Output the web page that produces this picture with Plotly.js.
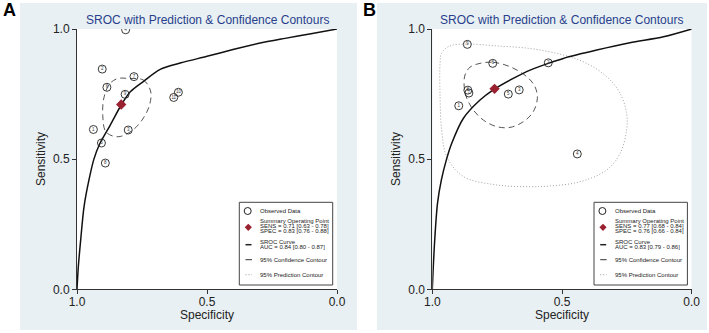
<!DOCTYPE html>
<html>
<head>
<meta charset="utf-8">
<script src="https://cdn.plot.ly/plotly-3.0.1.min.js"></script>
<style>html,body{margin:0;padding:0;background:#fff;}#chart{width:709px;height:333px;}</style>
</head>
<body>
<div id="chart"></div>
<script>
// ---------- data ----------
const panelLetters = ["A", "B"];
const chartTitle = "SROC with Prediction & Confidence Contours";
const xAxisTitle = "Specificity";
const yAxisTitle = "Sensitivity";
const tickVals = [0, 0.5, 1];
const tickText = ["0.0", "0.5", "1.0"];

// Panel A observed studies
const studyA_labels = ["1","2","3","4","5","6","7","8","9","10","11"];
const studyA_spec = [0.937, 0.903, 0.803, 0.813, 0.906, 0.885, 0.781, 0.891, 0.815, 0.610, 0.628];
const studyA_sens = [0.614, 0.846, 0.612, 0.997, 0.562, 0.776, 0.817, 0.485, 0.749, 0.757, 0.737];
const summaryA_spec = [0.83];
const summaryA_sens = [0.71];
const srocA_spec = [1.0, 0.995, 0.986, 0.973, 0.954, 0.935, 0.912, 0.872, 0.83, 0.795, 0.743, 0.68, 0.60, 0.50, 0.40, 0.30, 0.20, 0.10, 0.0];
const srocA_sens = [0.0, 0.086, 0.188, 0.317, 0.42, 0.50, 0.56, 0.631, 0.708, 0.759, 0.80, 0.845, 0.87, 0.895, 0.921, 0.945, 0.964, 0.982, 1.0];
const confA_spec = [0.803, 0.745, 0.717, 0.721, 0.75, 0.788, 0.842, 0.888, 0.901, 0.896, 0.873, 0.842, 0.803];
const confA_sens = [0.810, 0.804, 0.762, 0.708, 0.65, 0.61, 0.586, 0.604, 0.669, 0.738, 0.791, 0.81, 0.810];
const legendA_lines = ["SENS = 0.71 [0.63 - 0.78]", "SPEC = 0.83 [0.76 - 0.88]", "AUC = 0.84 [0.80 - 0.87]"];

// Panel B observed studies
const studyB_labels = ["1","2","3","4","5","6","7","8","9"];
const studyB_spec = [0.898, 0.553, 0.665, 0.441, 0.707, 0.767, 0.859, 0.863, 0.865];
const studyB_sens = [0.705, 0.870, 0.766, 0.520, 0.750, 0.868, 0.754, 0.765, 0.941];
const summaryB_spec = [0.76];
const summaryB_sens = [0.77];
const srocB_spec = [1.0, 0.997, 0.99, 0.98, 0.965, 0.945, 0.925, 0.88, 0.816, 0.765, 0.688, 0.623, 0.553, 0.495, 0.366, 0.238, 0.109, 0.0];
const srocB_sens = [0.0, 0.07, 0.2, 0.33, 0.42, 0.5, 0.561, 0.657, 0.727, 0.766, 0.81, 0.842, 0.868, 0.887, 0.919, 0.947, 0.970, 1.0];
const confB_spec = [0.816, 0.765, 0.70, 0.636, 0.604, 0.595, 0.611, 0.649, 0.70, 0.752, 0.803, 0.842, 0.867, 0.877, 0.874, 0.855, 0.816];
const confB_sens = [0.868, 0.872, 0.855, 0.817, 0.778, 0.734, 0.682, 0.644, 0.622, 0.625, 0.650, 0.689, 0.734, 0.778, 0.823, 0.853, 0.868];
const predB_spec = [0.964, 0.932, 0.867, 0.752, 0.623, 0.495, 0.405, 0.328, 0.276, 0.251, 0.251, 0.276, 0.328, 0.431, 0.546, 0.623, 0.752, 0.880, 0.944, 0.964, 0.970, 0.970, 0.964];
const predB_sens = [0.907, 0.935, 0.942, 0.935, 0.925, 0.900, 0.868, 0.817, 0.753, 0.676, 0.612, 0.522, 0.458, 0.413, 0.397, 0.394, 0.401, 0.433, 0.509, 0.612, 0.740, 0.868, 0.907];
const legendB_lines = ["SENS = 0.77 [0.68 - 0.84]", "SPEC = 0.76 [0.66 - 0.84]", "AUC = 0.83 [0.79 - 0.86]"];

const legendLabels = ["Observed Data", "Summary Operating Point", "SROC Curve", "95% Confidence Contour", "95% Prediction Contour"];

// ---------- helpers ----------
const W = 709, H = 333;
const PX = x => x / W;
const PY = y => 1 - y / H;
const FONT = "Liberation Sans, Arial, sans-serif";
const BG = "#e9f0f3";
const TITLE_C = "#283f8c";

function panelTraces(sfx, spec, sens, labels, sSpec, sSens, rSpec, rSens, cSpec, cSens, pSpec, pSens) {
  const xa = "x" + sfx, ya = "y" + sfx;
  const t = [];
  if (pSpec) t.push({x: pSpec, y: pSens, xaxis: xa, yaxis: ya, mode: "lines",
    line: {color: "#a0a0a0", width: 1, dash: "1px,2px", shape: "spline", smoothing: 1}});
  t.push({x: cSpec, y: cSens, xaxis: xa, yaxis: ya, mode: "lines",
    line: {color: "#555", width: 1, dash: "6px,4px", shape: "spline", smoothing: 1}});
  t.push({x: rSpec, y: rSens, xaxis: xa, yaxis: ya, mode: "lines",
    line: {color: "#111", width: 1.5, shape: "spline", smoothing: 0.8}});
  t.push({x: spec, y: sens, text: labels, xaxis: xa, yaxis: ya, mode: "markers+text",
    textposition: "middle center", textfont: {size: 4.5, color: "#333", family: FONT},
    marker: {symbol: "circle-open", size: 8, color: "#222", line: {width: 0.9}}});
  t.push({x: sSpec, y: sSens, xaxis: xa, yaxis: ya, mode: "markers",
    marker: {symbol: "diamond", size: 8, color: "#9a2230"}});
  return t;
}

const data = [].concat(
  panelTraces("", studyA_spec, studyA_sens, studyA_labels, summaryA_spec, summaryA_sens, srocA_spec, srocA_sens, confA_spec, confA_sens, null, null),
  panelTraces("2", studyB_spec, studyB_sens, studyB_labels, summaryB_spec, summaryB_sens, srocB_spec, srocB_sens, confB_spec, confB_sens, predB_spec, predB_sens)
);

function axisX(domain, anchor) {
  return {domain: domain, range: [1, 0], anchor: anchor, showgrid: false, zeroline: false,
    showline: true, linecolor: "#333", linewidth: 1, ticks: "outside", ticklen: 4, tickcolor: "#333",
    ticklabelstandoff: -3,
    tickvals: tickVals, ticktext: tickText, tickfont: {size: 12, color: "#222", family: FONT}, fixedrange: true};
}
function axisY(domain, anchor) {
  return {domain: domain, range: [0, 1], anchor: anchor, showgrid: false, zeroline: false,
    showline: true, linecolor: "#333", linewidth: 1, ticks: "outside", ticklen: 4, tickcolor: "#333",
    tickvals: tickVals, ticktext: tickText, tickfont: {size: 12, color: "#222", family: FONT}, fixedrange: true};
}

const yDom = [PY(289.3), PY(29)];
const layout = {
  width: W, height: H, margin: {l: 0, r: 0, t: 0, b: 0},
  paper_bgcolor: "#ffffff", plot_bgcolor: "#ffffff",
  showlegend: false, hovermode: false,
  xaxis: axisX([PX(77), PX(337)], "y"),
  yaxis: axisY(yDom, "x"),
  xaxis2: axisX([PX(432.3), PX(691.7)], "y2"),
  yaxis2: axisY(yDom, "x2"),
  shapes: [], annotations: []
};

// panel backgrounds
[[20, 357], [377, 707]].forEach(r => {
  layout.shapes.push({type: "rect", xref: "paper", yref: "paper", layer: "below",
    x0: PX(r[0]), x1: PX(r[1]), y0: PY(330), y1: PY(3), fillcolor: BG, line: {width: 0}});
});
// white plot areas
[["x", "y"], ["x2", "y2"]].forEach(a => {
  layout.shapes.push({type: "rect", xref: a[0], yref: a[1], layer: "below",
    x0: 1, x1: 0, y0: 0, y1: 1, fillcolor: "#ffffff", line: {width: 0}});
});

// titles, panel letters, axis titles
[[207.5, 9.5, 41, 207], [561.8, 369.5, 396, 562]].forEach((p, i) => {
  layout.annotations.push({xref: "paper", yref: "paper", x: PX(p[0]), y: PY(20), text: chartTitle,
    showarrow: false, xanchor: "center", yanchor: "middle", font: {size: 12, color: TITLE_C, family: FONT}});
  layout.annotations.push({xref: "paper", yref: "paper", x: PX(p[1]), y: PY(10), text: "<b>" + panelLetters[i] + "</b>",
    showarrow: false, xanchor: "center", yanchor: "middle", font: {size: 18, color: "#000", family: FONT}});
  layout.annotations.push({xref: "paper", yref: "paper", x: PX(p[2]), y: PY(159), text: yAxisTitle, textangle: -90,
    showarrow: false, xanchor: "center", yanchor: "middle", font: {size: 12, color: "#222", family: FONT}});
  layout.annotations.push({xref: "paper", yref: "paper", x: PX(p[3]), y: PY(314.5), text: xAxisTitle,
    showarrow: false, xanchor: "center", yanchor: "middle", font: {size: 12, color: "#222", family: FONT}});
});

// legends
function addLegend(dx, lines) {
  const L = v => PX(v + dx);
  layout.shapes.push({type: "rect", xref: "paper", yref: "paper", layer: "above",
    x0: L(239.3), x1: L(332.7), y0: PY(285), y1: PY(202.3), fillcolor: "#ffffff", line: {color: "#444", width: 1}});
  layout.shapes.push({type: "circle", xref: "paper", yref: "paper", layer: "above",
    x0: L(244.2), x1: L(251.2), y0: PY(214.5), y1: PY(207.5), line: {color: "#222", width: 1}});
  const cx = 248.3 + dx, cy = 227.3, r = 3.6;
  layout.shapes.push({type: "path", xref: "paper", yref: "paper", layer: "above",
    path: `M ${PX(cx)},${PY(cy - r)} L ${PX(cx + r)},${PY(cy)} L ${PX(cx)},${PY(cy + r)} L ${PX(cx - r)},${PY(cy)} Z`,
    fillcolor: "#9a2230", line: {width: 0}});
  layout.shapes.push({type: "line", xref: "paper", yref: "paper", layer: "above",
    x0: L(245.5), x1: L(251.5), y0: PY(244.7), y1: PY(244.7), line: {color: "#222", width: 1.5}});
  layout.shapes.push({type: "line", xref: "paper", yref: "paper", layer: "above",
    x0: L(245.5), x1: L(252), y0: PY(259.7), y1: PY(259.7), line: {color: "#333", width: 1}});
  layout.shapes.push({type: "line", xref: "paper", yref: "paper", layer: "above",
    x0: L(245.5), x1: L(252), y0: PY(274.7), y1: PY(274.7), line: {color: "#999", width: 1, dash: "1px,2px"}});
  const txt = [
    [legendLabels[0], 211], [legendLabels[1], 221.3], [lines[0], 226.3], [lines[1], 231.3],
    [legendLabels[2], 242], [lines[2], 247.4], [legendLabels[3], 259.7], [legendLabels[4], 274.7]
  ];
  txt.forEach(t => {
    layout.annotations.push({xref: "paper", yref: "paper", x: L(258.8), y: PY(t[1]), text: t[0],
      showarrow: false, xanchor: "left", yanchor: "middle", borderpad: 0,
      font: {size: 6, color: "#222", family: FONT}});
  });
}
addLegend(0, legendA_lines);
addLegend(354.7, legendB_lines);

Plotly.newPlot("chart", data, layout, {staticPlot: true, displayModeBar: false});
</script>
</body>
</html>
